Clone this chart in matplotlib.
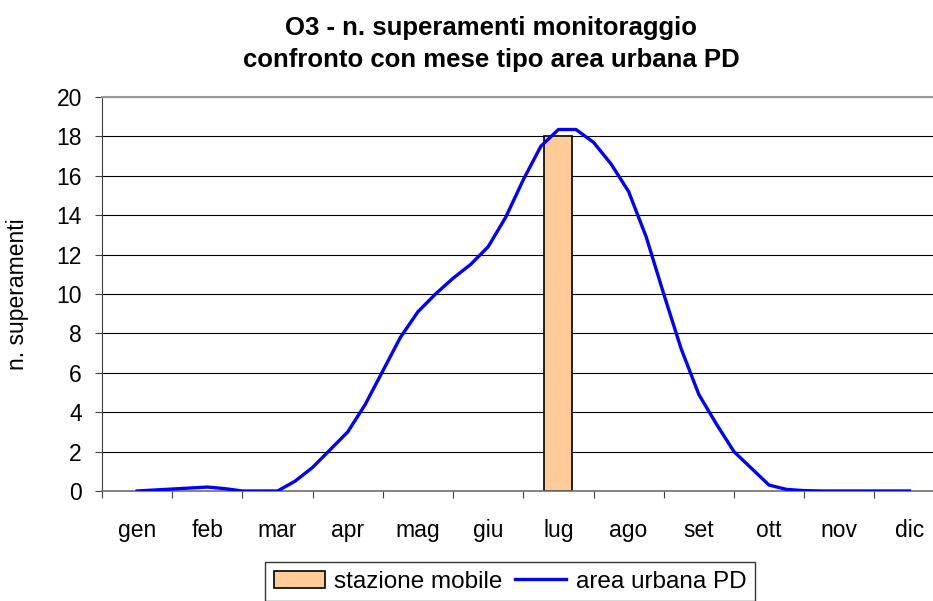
import numpy as np
import matplotlib
matplotlib.use("Agg")
import matplotlib.pyplot as plt

plt.rcParams['font.family'] = ['Liberation Sans', 'DejaVu Sans']

mesi = ['gen', 'feb', 'mar', 'apr', 'mag', 'giu', 'lug', 'ago', 'set', 'ott', 'nov', 'dic']

# stazione mobile: only july measured
mobile_mese = ['lug']
mobile_val = [18]

# area urbana PD, mese tipo (quarter-month steps from gen to dic)
urbana_val = [0, 0.05, 0.1, 0.15, 0.2, 0.12, 0, 0, 0,
              0.5, 1.2, 2.1, 3.0, 4.4, 6.1, 7.8, 9.1, 10.0, 10.8, 11.5, 12.4,
              13.9, 15.8, 17.5, 18.35, 18.35, 17.7, 16.6, 15.2, 12.9, 10.0,
              7.2, 4.9, 3.4, 2.0, 1.15, 0.3, 0.08, 0.02,
              0, 0, 0, 0, 0, 0]
urbana_x = np.arange(len(urbana_val)) / 4.0

W, H = 933, 601
fig = plt.figure(figsize=(W/100, H/100), dpi=100)
ax = fig.add_axes([102/W, 1-491/H, 842.6/W, 394/H])

xb = [mesi.index(m) for m in mobile_mese]
b = ax.bar(xb, mobile_val, width=0.4, color='#FFCC99', edgecolor='black', linewidth=1.2,
           label='stazione mobile', zorder=2)
l, = ax.plot(urbana_x, urbana_val, color='#0000FF', lw=2.4, label='area urbana PD', zorder=3)

ax.set_xlim(-0.5, 11.5)
ax.set_ylim(0, 20)
ax.set_yticks(np.arange(0, 21, 2))
ax.set_xticks(np.arange(-0.5, 12, 1))
ax.set_xticklabels([])
ax.set_xticks(np.arange(12), minor=True)
ax.set_xticklabels(mesi, minor=True)
ax.tick_params(axis='x', which='major', length=5, width=0.8, color='#404040', direction='out')
ax.tick_params(axis='x', which='minor', length=0, pad=20, labelsize=16.5)
ax.tick_params(axis='y', length=5, width=0.8, color='#404040', direction='out', pad=9.5, labelsize=16.5)

ax.set_axisbelow(True)
ax.yaxis.grid(True, color='black', lw=0.8)
ax.spines['right'].set_visible(False)
ax.spines['top'].set_color('#999999')
ax.spines['top'].set_linewidth(1.5)
ax.spines['left'].set_color('#404040')
ax.spines['bottom'].set_color('#707070')
ax.spines['bottom'].set_linewidth(1.2)

ax.set_ylabel('n. superamenti', fontsize=16.5, labelpad=20)

fig.text(491/W, 1-35/H, 'O3 - n. superamenti monitoraggio', ha='center', va='baseline',
         fontsize=18.5, fontweight='bold')
fig.text(491/W, 1-67/H, 'confronto con mese tipo area urbana PD', ha='center', va='baseline',
         fontsize=18.5, fontweight='bold')

leg = fig.legend(handles=[b, l], loc='upper center', bbox_to_anchor=(510/W, 1-562/H), ncol=2,
                 fontsize=17.5, frameon=True, fancybox=False, edgecolor='black', borderpad=0.35,
                 handlelength=2.1, handletextpad=0.4, columnspacing=0.5, borderaxespad=0)
leg.get_frame().set_linewidth(1.0)

fig.savefig('out.png', dpi=100)
